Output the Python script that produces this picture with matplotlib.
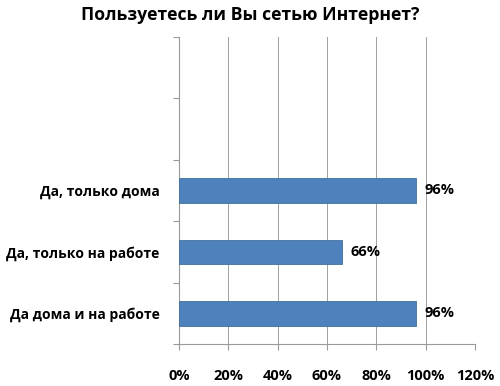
import matplotlib.pyplot as plt
from matplotlib.ticker import FuncFormatter

plt.rcParams['font.family'] = ['Open Sans', 'DejaVu Sans']

# categories from bottom to top; the top two slots are empty in the original
categories = ['Да дома и на работе', 'Да, только на работе', 'Да, только дома', '', '']
values = [96, 66, 96, None, None]
labels = ['96%', '66%', '96%', '', '']
xticks = [0, 20, 40, 60, 80, 100, 120]

fig = plt.figure(figsize=(5, 3.86), dpi=100)
ax = fig.add_axes([0.358, 0.109, 0.592, 0.795])

pos = list(range(len(categories)))
for p, v, lab in zip(pos, values, labels):
    if v is None:
        continue
    ax.barh(p, v, height=0.4, color='#4F81BD', edgecolor='#41719C',
            linewidth=0.6, zorder=3)
    ax.text(v + 3.5, p, lab, va='center', ha='left', fontsize=10.5,
            fontweight='bold', color='black')

ax.set_xlim(0, 120)
ax.set_ylim(-0.5, len(categories) - 0.5)
ax.set_xticks(xticks)
ax.xaxis.set_major_formatter(FuncFormatter(lambda x, _: f'{x:.0f}%'))
ax.set_yticks([p - 0.5 for p in pos] + [len(categories) - 0.5])
ax.set_yticklabels([])
ax.set_yticks(pos, minor=True)
ax.set_yticklabels(categories, minor=True)
ax.tick_params(axis='y', which='minor', length=0, pad=14, labelsize=10)
ax.tick_params(axis='y', which='major', length=4, color='#9a9a9a')
ax.tick_params(axis='x', length=4, color='#9a9a9a', pad=14, labelsize=10.5)
for t in ax.get_xticklabels() + ax.get_yticklabels(minor=True):
    t.set_fontweight('bold')

ax.grid(axis='x', color='#a0a0a0', linewidth=0.7, zorder=0)
for s in ['top', 'right']:
    ax.spines[s].set_visible(False)
ax.spines['left'].set_color('#9a9a9a')
ax.spines['bottom'].set_color('#9a9a9a')

fig.suptitle('Пользуетесь ли Вы сетью Интернет?', x=0.5, y=0.985,
             fontsize=12.7, fontweight='bold')

fig.savefig('out.png', dpi=100)
